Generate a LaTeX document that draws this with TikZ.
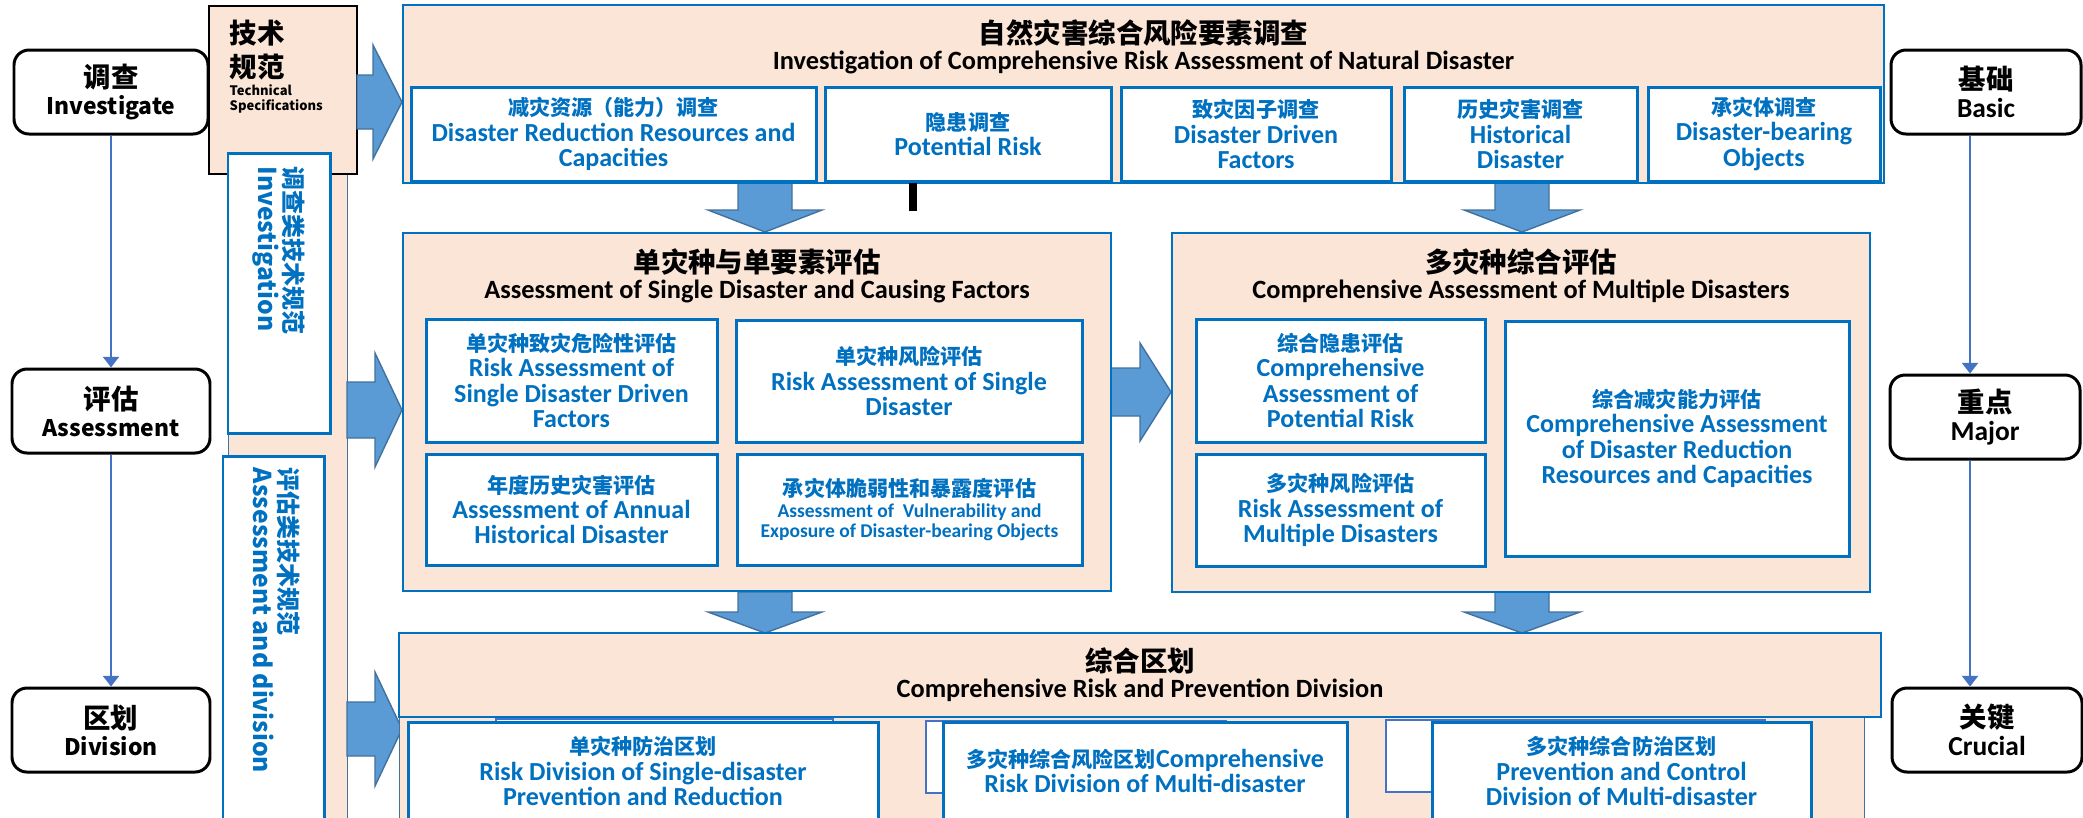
\documentclass[tikz,border=0pt]{standalone}
\usepackage{fontspec}
\setmainfont{Carlito}
\newfontfamily\cjk{Noto Sans CJK SC}
\usepackage{xcolor}
\usetikzlibrary{positioning, arrows.meta}

\definecolor{peach}{HTML}{FBE5D6}
\definecolor{boxblue}{HTML}{0070C0}
\definecolor{arrowfill}{HTML}{5B9BD5}
\definecolor{arrowedge}{HTML}{41719C}
\definecolor{linkblue}{HTML}{4472C4}

\newcommand{\fs}[2]{\fontsize{#1}{#2}\selectfont}
\newcommand{\zhb}[1]{{\cjk\bfseries\fs{7.8}{9}#1}}
\newcommand{\zhs}[1]{{\cjk\bfseries\fs{6}{7.2}#1}}
% block arrows: shaft start, head base, tip, centre, half shaft, half head
\newcommand{\blockright}[6]{\draw[bigarrow] (#1,#4-#5) -- (#2,#4-#5) -- (#2,#4-#6) -- (#3,#4) -- (#2,#4+#6) -- (#2,#4+#5) -- (#1,#4+#5) -- cycle;}
\newcommand{\blockdown}[6]{\draw[bigarrow] (#1-#5,#2) -- (#1-#5,#3) -- (#1-#6,#3) -- (#1,#4) -- (#1+#6,#3) -- (#1+#5,#3) -- (#1+#5,#2) -- cycle;}

\tikzset{
  sz/.style 2 args={minimum width=#1*0.01cm, minimum height=#2*0.01cm},
  stagebox/.style={draw=black, line width=0.85pt, rounded corners=0.15cm, fill=white, align=center, inner sep=0pt, font=\cjk\bfseries\fs{6.5}{7.7}},
  rstagebox/.style={stagebox, font=\bfseries\fs{7.8}{8}},
  panelbox/.style={draw=boxblue, line width=0.6pt, fill=peach, inner sep=0pt},
  specbox/.style={draw=boxblue, line width=0.85pt, fill=white, inner sep=0pt},
  itembox/.style={draw=boxblue, line width=0.85pt, fill=white, align=center, text=boxblue, inner sep=0pt, font=\bfseries\fs{7.4}{7.2}},
  titletext/.style={align=center, inner sep=0pt, font=\bfseries\fs{7.5}{7.4}},
  sidetext/.style={rotate=-90, anchor=north west, align=left, inner sep=0pt, text=boxblue, font=\cjk\bfseries\fs{7}{7.4}},
  bigarrow/.style={fill=arrowfill, draw=arrowedge, line width=0.4pt},
  flow/.style={draw=linkblue, line width=0.6pt, -{Triangle[width=4.5pt, length=3pt]}},
}

\begin{document}
\begin{tikzpicture}[x=0.01cm, y=-0.01cm]
  \useasboundingbox (0,0) rectangle (2083,817);
  \clip (0,0) rectangle (2083,817);

  % stages, left
  \node[stagebox, sz={194}{84}] (investigate) at (111,92) {\zhb{调查}\\Investigate};
  \node[stagebox, sz={198}{84}] (assessment) at (111,411) {\zhb{评估}\\Assessment};
  \node[stagebox, sz={198}{84}] (division) at (111,730) {\zhb{区划}\\Division};
  \draw[flow] (investigate.south) -- (investigate.south |- assessment.north);
  \draw[flow] (assessment.south) -- (assessment.south |- division.north);

  % stages, right
  \node[rstagebox, sz={190}{84}] (basic) at (1986,92) {\zhb{基础}\\Basic};
  \node[rstagebox, sz={190}{84}] (major) at (1985,417) {\zhb{重点}\\Major};
  \node[rstagebox, sz={190}{84}] (crucial) at (1987,730) {\zhb{关键}\\Crucial};
  \draw[flow] ([xshift=-0.16cm]basic.south) -- ([xshift=-0.16cm]basic.south |- major.north);
  \draw[flow] ([xshift=-0.15cm]major.south) -- ([xshift=-0.15cm]major.south |- crucial.north);

  % technical specifications column
  \node[fill=peach, draw=arrowedge, line width=0.3pt, sz={119}{660}, inner sep=0pt, anchor=north west] (strip) at (228,174) {};
  \node[draw=black, line width=0.7pt, fill=peach, sz={148}{168}, inner sep=0pt] (techspec) at (283,90) {};
  \node[anchor=north west, inner sep=0pt, align=left, font=\cjk\bfseries\fs{7.8}{9.7}] (techzh) at (229,19) {技术\\规范};
  \node[anchor=north west, inner sep=0pt, align=left, font=\cjk\bfseries\fs{3.7}{4.3}] (techen) at ([yshift=-1pt]techzh.south west) {Technical\\Specifications};
  \node[specbox, sz={102}{280}] (invspec) at (279,293) {};
  \node[sidetext] (invtxt) at (306,166) {{\fs{6.8}{7.4}调查类技术规范}\\Investigation};
  \node[specbox, sz={101}{384}] (assspec) at (273.5,648) {};
  \node[sidetext] (asstxt) at (301,467) {{\fs{6.8}{7.4}评估类技术规范}\\Assessment and division};

  % block arrows
  \blockright{357}{373}{402}{102}{27}{57}
  \blockright{347}{375}{402}{410}{28}{57}
  \blockright{347}{375}{402}{729}{27}{57}
  \blockright{1111}{1140}{1171}{392}{24}{49}
  \blockdown{765}{183}{210}{232}{27}{57}
  \blockdown{1522}{183}{210}{232}{27}{58}
  \blockdown{765}{592}{612}{633}{27}{57}
  \blockdown{1522}{592}{612}{633}{27}{58}

  % investigation
  \node[panelbox, sz={1481}{178}] (survey) at (1143.5,94) {};
  \node[titletext] (surveytitle) at (1143.5,47) {\zhb{自然灾害综合风险要素调查}\\Investigation of Comprehensive Risk Assessment of Natural Disaster};
  \node[itembox, sz={405}{94}] (resources) at (613.5,134) {\zhs{减灾资源（能力）调查}\\Disaster Reduction Resources and\\Capacities};
  \node[itembox, sz={286}{94}] (hazard) at (968,134) {\zhs{隐患调查}\\Potential Risk};
  \node[itembox, sz={270}{94}] (drivers) at (1256,134) {\zhs{致灾因子调查}\\Disaster Driven\\Factors};
  \node[itembox, sz={233}{94}] (history) at (1520.5,134) {\zhs{历史灾害调查}\\Historical\\Disaster};
  \node[itembox, sz={232}{94}] (bearers) at (1764,134) {\zhs{承灾体调查}\\Disaster-bearing\\Objects};
  \draw[line width=2.3pt] ([xshift=-0.55cm]hazard.south) -- ++(0,28);

  % single assessment
  \node[panelbox, sz={708}{358}] (single) at (757,412) {};
  \node[titletext] (singletitle) at (757,276) {\zhb{单灾种与单要素评估}\\Assessment of Single Disaster and Causing Factors};
  \node[itembox, sz={291}{123}] (singlehazard) at (571.5,380.5) {\zhs{单灾种致灾危险性评估}\\Risk Assessment of\\Single Disaster Driven\\Factors};
  \node[itembox, sz={346}{122}] (singlerisk) at (909,381) {\zhs{单灾种风险评估}\\Risk Assessment of Single\\Disaster};
  \node[itembox, sz={291}{111}] (annual) at (571.5,509.5) {\zhs{年度历史灾害评估}\\Assessment of Annual\\Historical Disaster};
  \node[itembox, sz={345}{111}, font=\bfseries\fs{5.55}{5.7}] (exposure) at (909.5,509.5) {\zhs{承灾体脆弱性和暴露度评估}\\Assessment of~~Vulnerability and\\Exposure of Disaster-bearing Objects};

  % multiple assessment
  \node[panelbox, sz={698}{359}] (multi) at (1521,412.5) {};
  \node[titletext] (multititle) at (1521,276) {\zhb{多灾种综合评估}\\Comprehensive Assessment of Multiple Disasters};
  \node[itembox, sz={289}{123}] (multihazard) at (1340.5,380.5) {\zhs{综合隐患评估}\\Comprehensive\\Assessment of\\Potential Risk};
  \node[itembox, sz={289}{112}] (multirisk) at (1340.5,510) {\zhs{多灾种风险评估}\\Risk Assessment of\\Multiple Disasters};
  \node[itembox, sz={344}{235}] (capacity) at (1677,438.5) {\zhs{综合减灾能力评估}\\Comprehensive Assessment\\of Disaster Reduction\\Resources and Capacities};

  % division
  \node[panelbox, draw=arrowedge, line width=0.3pt, sz={1465}{200}, anchor=north west] (zoneback) at (399,700) {};
  \node[draw=linkblue, fill=white, line width=0.6pt, sz={337}{72}, anchor=north west] (zoneback1) at (495,718) {};
  \node[draw=linkblue, fill=white, line width=0.6pt, sz={300}{72}, anchor=north west] (zoneback2) at (925,720) {};
  \node[draw=linkblue, fill=white, line width=0.6pt, sz={379}{72}, anchor=north west] (zoneback3) at (1385,719) {};
  \node[panelbox, sz={1482}{84}, align=center, font=\bfseries\fs{7.5}{7.4}] (zoning) at (1140,675) {\zhb{综合区划}\\Comprehensive Risk and Prevention Division};
  \node[itembox, sz={470}{98}] (singlezone) at (643,771) {\zhs{单灾种防治区划}\\Risk Division of Single-disaster\\Prevention and Reduction};
  \node[itembox, sz={404}{98}] (multizone) at (1145,771) {\zhs{多灾种综合风险区划}Comprehensive\\Risk Division of Multi-disaster};
  \node[itembox, sz={379}{98}] (multicontrol) at (1621.5,771) {\zhs{多灾种综合防治区划}\\Prevention and Control\\Division of Multi-disaster};
\end{tikzpicture}
\end{document}
